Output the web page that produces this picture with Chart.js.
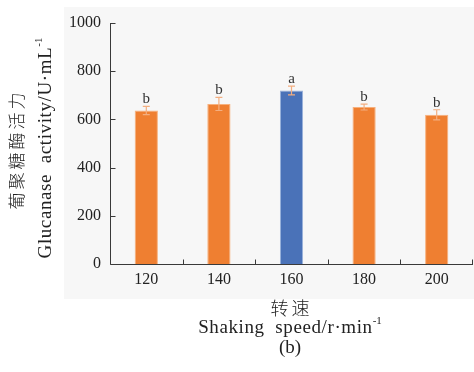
<!DOCTYPE html>
<html><head><meta charset="utf-8">
<script src="https://cdn.jsdelivr.net/npm/chart.js@4/dist/chart.umd.min.js"></script>
<style>html,body{margin:0;padding:0;background:#fff}#wrap{width:474px;height:372px}</style>
</head><body><div id="wrap"><canvas id="c" width="474" height="372"></canvas></div>
<script>
const categories = ['120', '140', '160', '180', '200'];
const values = [637, 664, 720, 651, 619];
const errors = [17, 27, 18, 12, 21];
const letters = ['b', 'b', 'a', 'b', 'b'];
const yTicks = [0, 200, 400, 600, 800, 1000];
const yTitleCn = '葡聚糖酶活力';
const yTitleEn = 'Glucanase  activity/U·mL';
const xTitleCn = '转速';
const xTitleEn = 'Shaking  speed/r·min';
const panelLabel = '(b)';

const SERIF = '"Liberation Serif", "Times New Roman", serif';
const CJK = '"Noto Sans CJK SC", sans-serif';
const AXIS = '#3a3a3a';

function setLS(ctx, v) { if (ctx.letterSpacing !== undefined) ctx.letterSpacing = v; }

const bgPlugin = {
  id: 'bg',
  beforeDraw(chart) {
    const ctx = chart.ctx;
    ctx.save();
    ctx.fillStyle = '#ffffff';
    ctx.fillRect(0, 0, chart.width, chart.height);
    ctx.fillStyle = '#f7f7f7';
    ctx.fillRect(64, 7, chart.width - 64, 292);
    ctx.restore();
  }
};

const extras = {
  id: 'extras',
  afterDatasetsDraw(chart) {
    const ctx = chart.ctx;
    const xs = chart.scales.x, ys = chart.scales.y;
    const area = chart.chartArea;
    ctx.save();
    const meta = chart.getDatasetMeta(0);
    meta.data.forEach((bar, i) => {
      const x = bar.x;
      const top = ys.getPixelForValue(values[i] + errors[i]);
      const bot = ys.getPixelForValue(values[i] - errors[i]);
      ctx.strokeStyle = '#f3ae80';
      ctx.lineWidth = 1.2;
      ctx.beginPath();
      ctx.moveTo(x, top); ctx.lineTo(x, bot);
      ctx.moveTo(x - 3.5, top); ctx.lineTo(x + 3.5, top);
      ctx.moveTo(x - 3.5, bot); ctx.lineTo(x + 3.5, bot);
      ctx.stroke();
      ctx.fillStyle = '#333';
      ctx.font = '15px ' + SERIF;
      ctx.textAlign = 'center';
      ctx.textBaseline = 'alphabetic';
      ctx.fillText(letters[i], x, top - 3);
    });
    ctx.strokeStyle = AXIS;
    ctx.lineWidth = 1;
    const L = Math.round(area.left) + 0.5, B = Math.round(area.bottom) + 0.5;
    ctx.beginPath();
    ctx.moveTo(L, ys.getPixelForValue(1000));
    ctx.lineTo(L, B);
    ctx.lineTo(area.right, B);
    yTicks.forEach(v => {
      const y = Math.round(ys.getPixelForValue(v)) + 0.5;
      ctx.moveTo(L, y); ctx.lineTo(L + 5, y);
    });
    for (let i = 1; i <= categories.length; i++) {
      const xb = Math.round((xs.getPixelForValue(i - 1) + xs.getPixelForValue(i)) / 2) + 0.5;
      const xx = i === categories.length ? Math.round(area.right) - 0.5 : xb;
      ctx.moveTo(xx, B); ctx.lineTo(xx, B - 5);
    }
    ctx.stroke();
    ctx.restore();
  },
  afterDraw(chart) {
    const ctx = chart.ctx;
    ctx.save();
    ctx.fillStyle = '#222';
    ctx.save();
    ctx.translate(17, 151);
    ctx.rotate(-Math.PI / 2);
    ctx.textAlign = 'center';
    ctx.textBaseline = 'middle';
    ctx.font = '300 17px ' + CJK;
    setLS(ctx, '3px');
    ctx.fillText(yTitleCn, 1.5, 0);
    setLS(ctx, '0px');
    ctx.restore();

    ctx.save();
    ctx.translate(46, 148);
    ctx.rotate(-Math.PI / 2);
    ctx.textBaseline = 'middle';
    ctx.font = '19px ' + SERIF;
    setLS(ctx, '0.6px');
    const wEn = ctx.measureText(yTitleEn).width;
    setLS(ctx, '0px');
    ctx.font = '11px ' + SERIF;
    const wSup = ctx.measureText('-1').width;
    let sx = -(wEn + wSup) / 2;
    ctx.font = '19px ' + SERIF;
    ctx.textAlign = 'left';
    setLS(ctx, '0.6px');
    ctx.fillText(yTitleEn, sx, 0);
    setLS(ctx, '0px');
    ctx.font = '11px ' + SERIF;
    ctx.fillText('-1', sx + wEn, -7);
    ctx.restore();

    const cx = 290;
    ctx.textAlign = 'center';
    ctx.textBaseline = 'middle';
    ctx.font = '300 18px ' + CJK;
    setLS(ctx, '3px');
    ctx.fillText(xTitleCn, cx + 1.5, 308);
    setLS(ctx, '0px');

    ctx.font = '19px ' + SERIF;
    setLS(ctx, '0.6px');
    const w2 = ctx.measureText(xTitleEn).width;
    setLS(ctx, '0px');
    ctx.font = '11px ' + SERIF;
    const w3 = ctx.measureText('-1').width;
    const start = cx - (w2 + w3) / 2;
    ctx.textAlign = 'left';
    ctx.font = '19px ' + SERIF;
    setLS(ctx, '0.6px');
    ctx.fillText(xTitleEn, start, 328);
    setLS(ctx, '0px');
    ctx.font = '11px ' + SERIF;
    ctx.fillText('-1', start + w2, 321);

    ctx.textAlign = 'center';
    ctx.font = '19px ' + SERIF;
    ctx.fillText(panelLabel, cx, 348);
    ctx.restore();
  }
};

new Chart(document.getElementById('c'), {
  type: 'bar',
  data: {
    labels: categories,
    datasets: [{
      data: values,
      backgroundColor: values.map((v, i) => i === 2 ? '#4a72b8' : '#ef7f31'),
      borderColor: values.map((v, i) => i === 2 ? '#9ab2dc' : '#f7b07c'),
      borderWidth: 1,
      barPercentage: 0.32,
      categoryPercentage: 1
    }]
  },
  plugins: [bgPlugin, extras],
  options: {
    responsive: false,
    animation: false,
    events: [],
    layout: { padding: { top: 23, right: 1, left: 0, bottom: 0 } },
    plugins: { legend: { display: false }, tooltip: { enabled: false }, title: { display: false } },
    scales: {
      x: {
        grid: { display: false, drawTicks: false },
        border: { display: false },
        ticks: { color: '#222', font: { family: SERIF, size: 16 }, padding: 6 },
        afterFit(s) { s.height = 108; }
      },
      y: {
        min: 0, max: 1000,
        grid: { display: false, drawTicks: false },
        border: { display: false },
        ticks: { stepSize: 200, color: '#222', font: { family: SERIF, size: 16 }, padding: 9,
                 callback: (v) => String(v) },
        afterFit(s) { s.width = 110; }
      }
    }
  }
});
</script></body></html>
